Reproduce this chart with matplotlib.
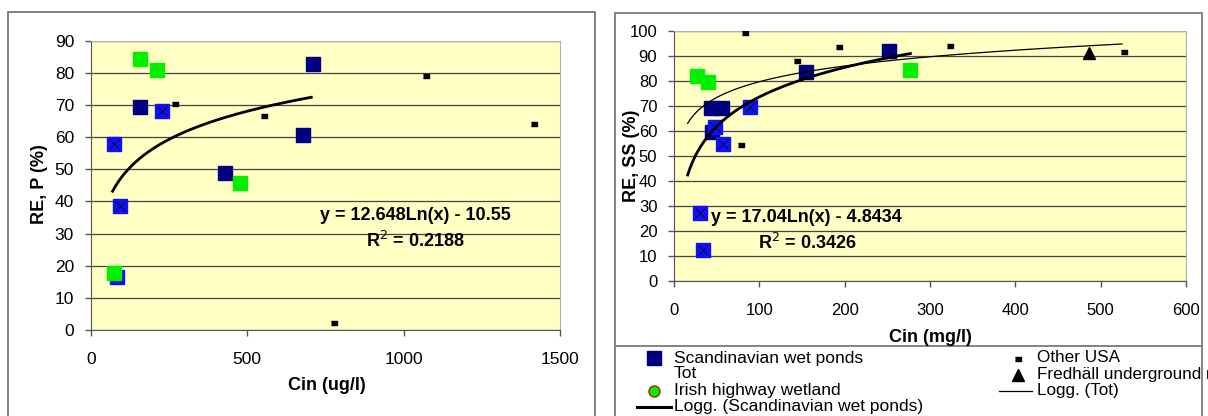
import matplotlib
matplotlib.use("Agg")
import matplotlib.pyplot as plt
from matplotlib import font_manager
from matplotlib.lines import Line2D
import numpy as np

# ---- data: left panel (RE, P vs Cin ug/l) ----
p_scand_x = [159, 709, 679, 429]
p_scand_y = [69.5, 82.8, 60.7, 48.8]
p_tot_x = [76, 95, 227, 83]
p_tot_y = [57.8, 38.6, 68.1, 16.6]
p_irish_x = [159, 212, 477, 76]
p_irish_y = [84.3, 80.8, 45.6, 17.6]
p_usa_x = [271, 555, 1072, 1418, 779]
p_usa_y = [70.4, 66.6, 79.0, 64.0, 2.2]
p_fit = (12.648, -10.55)
p_fit_range = (70, 705)

# ---- data: right panel (RE, SS vs Cin mg/l) ----
ss_scand_x = [43.7, 55.9, 44.2, 154.3, 252.3]
ss_scand_y = [69.3, 69.3, 59.7, 83.7, 92.1]
ss_tot_x = [48.4, 57.8, 89.1, 30.5, 33.6]
ss_tot_y = [61.7, 54.8, 69.5, 27.3, 12.4]
ss_irish_x = [27.3, 40.2, 277]
ss_irish_y = [82.1, 79.5, 84.4]
ss_usa_x = [83.2, 143.8, 193.8, 78.1, 323.6, 527.6]
ss_usa_y = [99.1, 88.0, 93.5, 54.4, 94.0, 91.7]
ss_fred_x = [486.7]
ss_fred_y = [91.1]
ss_fit = (17.04, -4.8434)
ss_fit_range = (16, 277)
ss_tot_fit = (9.1, 37.8)      # estimated, not printed on chart
ss_tot_fit_range = (16, 525)

names = [f.name for f in font_manager.fontManager.ttflist]
FONT = "Liberation Sans Narrow" if "Liberation Sans Narrow" in names else "Liberation Sans"
plt.rcParams["font.family"] = [FONT, "DejaVu Sans"]

NAVY = "#000080"
BLUE = "#1010FA"
GREEN = "#00F000"
BG = "#FFFFC4"

fig = plt.figure(figsize=(12.08, 4.16), dpi=100)
W, H = 1208, 416


def box(x0, y0, x1, y1):
    fig.add_artist(plt.Rectangle((x0 / W, 1 - y1 / H), (x1 - x0) / W, (y1 - y0) / H,
                                 transform=fig.transFigure, fill=False,
                                 edgecolor="#7a7a7a", lw=1.3))


box(8, 12, 595, 430)
box(615, 13, 1202, 430)
fig.add_artist(Line2D([615 / W, 1202 / W], [1 - 346 / H] * 2, color="#7a7a7a", lw=1.3))


def style(ax, ymax, tsize, xpad):
    ax.set_facecolor(BG)
    ax.yaxis.grid(True, color="#444444", lw=0.9)
    ax.set_axisbelow(True)
    for s in ["top", "right"]:
        ax.spines[s].set_color("#b0b0b0")
    for s in ["left", "bottom"]:
        ax.spines[s].set_color("#555555")
    ax.set_ylim(0, ymax)
    ax.tick_params(direction="out", length=4, width=1, color="#555555",
                   labelsize=tsize)
    ax.tick_params(axis="y", pad=8)
    ax.tick_params(axis="x", pad=xpad)


def fitline(ax, coef, rng, lw):
    xs = np.linspace(rng[0], rng[1], 200)
    ax.plot(xs, coef[0] * np.log(xs) + coef[1], color="black", lw=lw, zorder=4)


def draw(ax, sx, sy, tx, ty, ix, iy, ux, uy):
    ax.plot(sx, sy, "s", color=NAVY, ms=10, ls="none", zorder=3)
    ax.plot(tx, ty, "s", color=BLUE, ms=10, ls="none", zorder=3)
    ax.plot(tx, ty, "x", color="#101030", ms=7, mew=0.8, ls="none", zorder=3)
    ax.plot(ix, iy, "s", color=GREEN, ms=10, ls="none", zorder=3)
    dash = [(-1, -0.45), (1, -0.45), (1, 0.45), (-1, 0.45)]
    ax.plot(ux, uy, marker=dash, color="black", ms=5, ls="none", zorder=3)


BOLD = dict(ha="center", va="center", fontsize=13, fontweight="bold")

# ---- left panel ----
ax1 = fig.add_axes([90.7 / W, 1 - 330 / H, (560 - 90.7) / W, (330 - 40.7) / H])
style(ax1, 90, 12.5, 12)
ax1.set_xlim(0, 1500)
ax1.set_xticks([0, 500, 1000, 1500])
ax1.set_yticks(range(0, 91, 10))
draw(ax1, p_scand_x, p_scand_y, p_tot_x, p_tot_y, p_irish_x, p_irish_y, p_usa_x, p_usa_y)
fitline(ax1, p_fit, p_fit_range, 2.0)
fig.text(415 / W, 1 - 215 / H, "y = 12.648Ln(x) - 10.55", **BOLD)
fig.text(415 / W, 1 - 241 / H, "R$^2$ = 0.2188", **BOLD)
fig.text(327 / W, 1 - 385 / H, "Cin (ug/l)", **BOLD)
fig.text(40 / W, 1 - 184 / H, "RE, P (%)", rotation=90, **BOLD)

# ---- right panel ----
ax2 = fig.add_axes([674 / W, 1 - 281 / H, (1186 - 674) / W, (281 - 31) / H])
style(ax2, 100, 12, 12)
ax2.set_xlim(0, 600)
ax2.set_xticks(range(0, 601, 100))
ax2.set_yticks(range(0, 101, 10))
draw(ax2, ss_scand_x, ss_scand_y, ss_tot_x, ss_tot_y, ss_irish_x, ss_irish_y, ss_usa_x, ss_usa_y)
ax2.plot(ss_fred_x, ss_fred_y, "^", color="black", ms=8, ls="none", zorder=3)
fitline(ax2, ss_fit, ss_fit_range, 2.0)
fitline(ax2, ss_tot_fit, ss_tot_fit_range, 0.9)
fig.text(806 / W, 1 - 217 / H, "y = 17.04Ln(x) - 4.8434", **BOLD)
fig.text(807 / W, 1 - 243 / H, "R$^2$ = 0.3426", **BOLD)
fig.text(930 / W, 1 - 337 / H, "Cin (mg/l)", **BOLD)
fig.text(631 / W, 1 - 156 / H, "RE, SS (%)", rotation=90, **BOLD)

# ---- legend (right panel) ----
leg_rows_l = ["Scandinavian wet ponds", "Tot", "Irish highway wetland",
              "Logg. (Scandinavian wet ponds)"]
leg_rows_r = ["Other USA", "Fredhäll underground r", "Logg. (Tot)"]
row_y = [358, 374, 390, 406.5]
for t, yy in zip(leg_rows_l, row_y):
    fig.text(674 / W, 1 - yy / H, t, ha="left", va="center", fontsize=12.5)
for t, yy in zip(leg_rows_r, row_y):
    fig.text(1037 / W, 1 - yy / H, t, ha="left", va="center", fontsize=12.3)


def fmark(x, y, **kw):
    fig.add_artist(Line2D([x / W], [1 - y / H], ls="none", **kw))


fmark(654, 358, marker="s", color=NAVY, ms=10)
fmark(654, 391, marker="o", mfc=GREEN, mec="#c02000", mew=1, ms=8)
fig.add_artist(Line2D([637 / W, 671 / W], [1 - 407 / H] * 2, color="black", lw=2.2))
fmark(1018, 359, marker=[(-1, -0.45), (1, -0.45), (1, 0.45), (-1, 0.45)], color="black", ms=5)
fmark(1018, 375, marker="^", color="black", ms=8)
fig.add_artist(Line2D([999 / W, 1032 / W], [1 - 391 / H] * 2, color="black", lw=0.9))

fig.savefig("out.png", dpi=100)
